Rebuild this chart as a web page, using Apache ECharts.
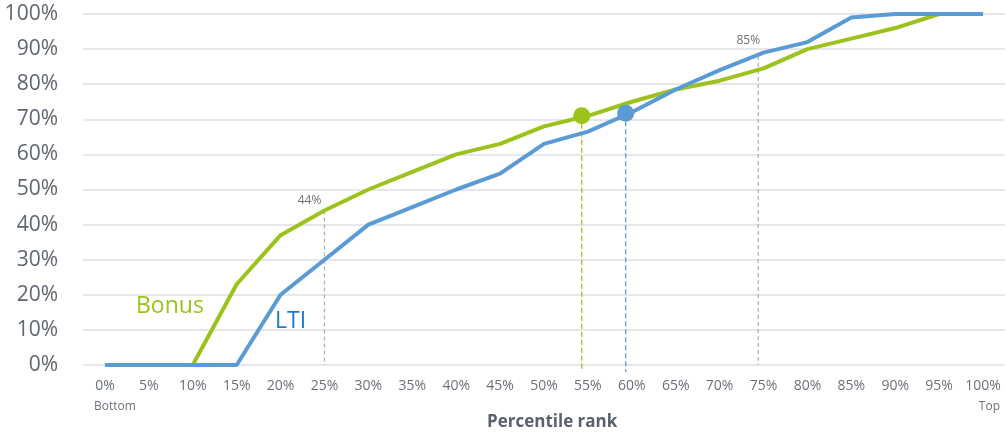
<!DOCTYPE html>
<html><head><meta charset="utf-8">
<script src="https://cdn.jsdelivr.net/npm/echarts@6/dist/echarts.min.js"></script>
<style>html,body{margin:0;padding:0;background:#fff}#c{width:1006px;height:436px}</style>
</head><body><div id="c"></div>
<script>
var pct = [0,5,10,15,20,25,30,35,40,45,50,55,60,65,70,75,80,85,90,95,100];
var categories = pct.map(function(p){return p+'%';});
var bonus = [0,0,0,23,37,44,50,55,60,63,68,71,75,78.5,81,84.5,90,93,96,100,100];
var lti   = [0,0,0,0,20,30,40,45,50,54.5,63,66.5,72,78.5,84,89,92,99,100,100,100];
var yTicks = [0,10,20,30,40,50,60,70,80,90,100];
var bonusDot = [54.3, 71];
var ltiDot = [59.3, 71.7];
var refX = [25, 74.4];
var refTop = [44, 88];
var refLabel = ['44%', '85%'];

var GREEN = '#9cc31b', BLUE = '#5b9bd5', GREY = '#a9adb4';
var FONT = '"Open Sans", "Noto Sans", sans-serif';

var chart = echarts.init(document.getElementById('c'));
function pairs(ys){return pct.map(function(p,i){return [p, ys[i]];});}

var series = [
  {type:'line', xAxisIndex:1, data:pairs(bonus), symbol:'none', lineStyle:{color:GREEN,width:4}, z:3},
  {type:'line', xAxisIndex:1, data:pairs(lti), symbol:'none', lineStyle:{color:BLUE,width:4}, z:4},
  {type:'line', xAxisIndex:1, clip:false, symbol:'none', data:[[bonusDot[0],bonusDot[1]],[bonusDot[0],-2]], lineStyle:{color:GREEN,width:1.3,type:[5,3]}, z:2},
  {type:'line', xAxisIndex:1, clip:false, symbol:'none', data:[[ltiDot[0],ltiDot[1]],[ltiDot[0],-2]], lineStyle:{color:BLUE,width:1.3,type:[5,3]}, z:2},
  {type:'scatter', xAxisIndex:1, data:[bonusDot], symbolSize:17, itemStyle:{color:GREEN, opacity:1}, z:6},
  {type:'scatter', xAxisIndex:1, data:[ltiDot], symbolSize:17, itemStyle:{color:BLUE, opacity:1}, z:6}
];
refX.forEach(function(x,i){
  series.push({type:'line', xAxisIndex:1, symbol:'none', z:2,
    lineStyle:{color:GREY,width:1.2,type:[4,3]},
    data:[{value:[x,refTop[i]], symbol:'circle', symbolSize:1,
           label:{show:true, formatter:refLabel[i], position:'top', offset:i===0?[-15,2]:[-10,-4],
                  color:'#6b717b', fontSize:12, fontFamily:FONT}},
          [x,0]]});
});

chart.setOption({
  animation:false,
  grid:{left:83,right:1,top:14,bottom:71},
  xAxis:[
    {type:'category', data:categories, boundaryGap:true,
     axisLine:{show:false}, axisTick:{show:false},
     axisLabel:{color:'#6b717b', fontSize:14, fontFamily:FONT, margin:14, interval:0}},
    {type:'value', min:-2.5, max:102.5, show:false}
  ],
  yAxis:{type:'value', min:0, max:100, interval:10,
    axisLine:{show:false}, axisTick:{show:false},
    axisLabel:{formatter:function(v){return v+'%';}, color:'#5f6670', fontSize:21, fontFamily:FONT, margin:25},
    splitLine:{lineStyle:{color:'#e6e6eb', width:2}}},
  series:series,
  graphic:[
    {type:'text', left:94, top:401, style:{text:'Bottom', fill:'#6b717b', fontSize:12, fontFamily:FONT}},
    {type:'text', right:6, top:401, style:{text:'Top', fill:'#6b717b', fontSize:12, fontFamily:FONT}},
    {type:'text', left:487, top:414, style:{text:'Percentile rank', fill:'#5a616c', fontSize:17, fontWeight:'bold', fontFamily:FONT}},
    {type:'text', left:136, top:295, style:{text:'Bonus', fill:GREEN, fontSize:23, fontFamily:FONT}},
    {type:'text', left:275, top:310, style:{text:'LTI', fill:'#1f78c8', fontSize:23, fontFamily:FONT}}
  ]
});
</script></body></html>
